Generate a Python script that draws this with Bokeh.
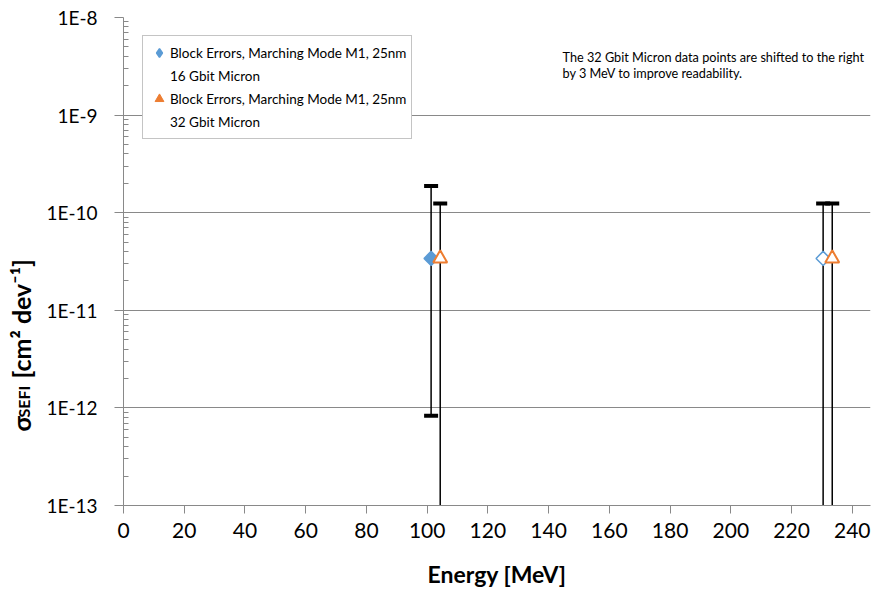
import numpy as np
from bokeh.plotting import figure
from bokeh.layouts import row
from bokeh.models import (Range1d, FixedTicker, CustomJSTickFormatter, Legend,
                          LegendItem, Label, ColumnDataSource)
from bokeh.embed import file_html
from bokeh.resources import INLINE

# ---- data ----
energy_16 = [101.3, 230.4]          # MeV
energy_32 = [104.3, 233.4]          # MeV (shifted by 3 MeV)
sigma_16 = [3.4e-11, 3.4e-11]
sigma_32 = [3.4e-11, 3.4e-11]
upper_16 = [1.88e-10, 1.24e-10]
lower_16 = [8.3e-13, 1e-16]         # 1e-16: lower limit off the scale
upper_32 = [1.24e-10, 1.24e-10]
lower_32 = [1e-16, 1e-16]
filled_16 = [True, False]
x_ticks = [0, 20, 40, 60, 80, 100, 120, 140, 160, 180, 200, 220, 240]
y_ticks = [1e-13, 1e-12, 1e-11, 1e-10, 1e-9, 1e-8]
series_name = "Block Errors, Marching Mode M1, 25nm"
device_16 = "16 Gbit Micron"
device_32 = "32 Gbit Micron"
note_text = "The 32 Gbit Micron data points are shifted to the right\n by 3 MeV to improve readability."
x_title = "Energy [MeV]"
y_title_main = "σ"
y_title_sub = "SEFI"
y_title_rest = "[cm² dev⁻¹]"

BLUE = "#5B9BD5"
ORANGE = "#ED7D31"
GRID = "#898989"
FONT = "Lato"

p = figure(width=832, height=590, y_axis_type="log",
           x_range=Range1d(0, 246), y_range=Range1d(1e-13, 1e-8),
           output_backend="svg", toolbar_location=None,
           min_border_left=83, min_border_right=2, min_border_top=17,
           min_border_bottom=84)
p.outline_line_color = None
p.background_fill_color = "white"

# axes
xa = p.xaxis[0]
xa.ticker = FixedTicker(ticks=x_ticks)
xa.axis_line_color = GRID
xa.major_tick_line_color = GRID
xa.major_tick_out = 8
xa.major_tick_in = 0
xa.minor_tick_line_color = None
xa.major_label_text_font = FONT
xa.major_label_text_font_size = "21px"
xa.major_label_text_color = "black"
xa.major_label_standoff = 9
xa.axis_label = x_title
xa.axis_label_text_font = FONT
xa.axis_label_text_font_size = "23px"
xa.axis_label_text_font_style = "bold"
xa.axis_label_text_color = "black"
xa.axis_label_standoff = 19

minor = [m * t for t in y_ticks[:-1] for m in range(2, 10)]
ya = p.yaxis[0]
ya.ticker = FixedTicker(ticks=y_ticks, minor_ticks=minor)
ya.formatter = CustomJSTickFormatter(code="return '1E' + Math.round(Math.log10(tick));")
ya.axis_line_color = GRID
ya.major_tick_line_color = GRID
ya.minor_tick_line_color = GRID
ya.major_tick_out = 9
ya.major_tick_in = 0
ya.minor_tick_out = 0
ya.minor_tick_in = 5
ya.major_label_text_font = FONT
ya.major_label_text_font_size = "19px"
ya.major_label_text_color = "black"
ya.major_label_standoff = 17

p.xgrid.grid_line_color = None
p.ygrid.ticker = FixedTicker(ticks=y_ticks)
p.ygrid.grid_line_color = GRID
p.ygrid.grid_line_width = 1

# error bars
for ex, lo, up in ((energy_16, lower_16, upper_16), (energy_32, lower_32, upper_32)):
    src = ColumnDataSource(dict(x=ex, lo=lo, up=up))
    p.segment(x0="x", y0="lo", x1="x", y1="up", source=src, line_color="black", line_width=1.5)
    p.rect(x="x", y="up", width=14, height=4, width_units="screen", height_units="screen",
           source=src, fill_color="black", line_color=None)
    p.rect(x="x", y="lo", width=14, height=4, width_units="screen", height_units="screen",
           source=src, fill_color="black", line_color=None)

# markers
src16 = ColumnDataSource(dict(x=energy_16, y=sigma_16,
                              fill=[BLUE if f else "white" for f in filled_16]))
p.scatter("x", "y", source=src16, marker="square", angle=np.pi / 4, size=10,
          fill_color="fill", line_color=BLUE, line_width=1.5)
src32 = ColumnDataSource(dict(x=energy_32, y=sigma_32))
p.scatter("x", "y", source=src32, marker="triangle", size=14,
          fill_color="white", line_color=ORANGE, line_width=2)

# legend-only renderers (filled symbols as shown in the legend), not drawn
leg16 = p.scatter(x=energy_16, y=sigma_16, marker="diamond", size=10,
                  fill_color=BLUE, line_color=BLUE, line_width=1.5, visible=False)
leg32 = p.scatter(x=energy_32, y=sigma_32, marker="triangle", size=10,
                  fill_color=ORANGE, line_color=ORANGE, visible=False)
blank = p.scatter(x=energy_16, y=sigma_16, marker="circle", size=1,
                  fill_alpha=0, line_alpha=0, visible=False)

legend = Legend(items=[LegendItem(label=series_name, renderers=[leg16], index=0),
                       LegendItem(label=device_16, renderers=[blank], index=0),
                       LegendItem(label=series_name, renderers=[leg32], index=0),
                       LegendItem(label=device_32, renderers=[blank], index=0)],
                location=(19, 366), margin=0, padding=5, spacing=0,
                glyph_width=22, glyph_height=23, label_height=23, label_standoff=0,
                label_text_font=FONT, label_text_font_size="13.5px",
                label_text_color="black", border_line_color=GRID,
                border_line_width=1, background_fill_color="white",
                background_fill_alpha=1.0)
p.add_layout(legend, "center")

# note
p.add_layout(Label(x=439, y=457, x_units="screen", y_units="screen", text=note_text,
                   text_font=FONT, text_font_size="12.7px", text_color="black",
                   text_align="left", text_baseline="top", text_line_height=1.05))

# ---- narrow strip on the left carrying the y-axis title (sigma with subscript) ----
t = figure(width=40, height=590, x_range=Range1d(0, 40), y_range=Range1d(0, 590),
           output_backend="svg", toolbar_location=None, min_border=0,
           x_axis_location=None, y_axis_location=None)
t.outline_line_color = None
t.xgrid.visible = False
t.ygrid.visible = False
ylab_style = dict(x_units="screen", y_units="screen", angle=np.pi / 2,
                  text_font=FONT, text_font_style="bold", text_color="black",
                  text_align="left", text_baseline="alphabetic")
t.add_layout(Label(x=20, y=74, text=y_title_main, text_font_size="25px", **ylab_style))
t.add_layout(Label(x=22.5, y=88, text=y_title_sub, text_font_size="16px", **ylab_style))
t.add_layout(Label(x=20, y=127, text=y_title_rest, text_font_size="25px", **ylab_style))

layout = row(t, p, spacing=0)
open("out.html", "w").write(file_html(layout, INLINE))
